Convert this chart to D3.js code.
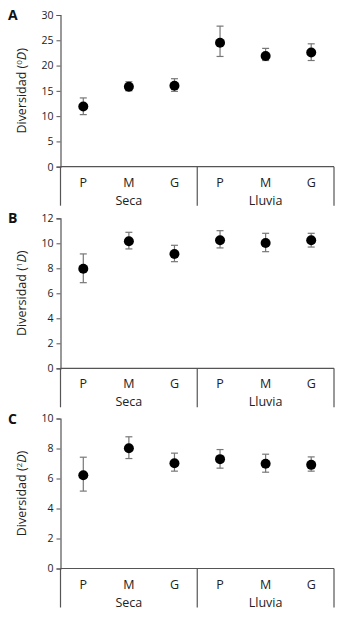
<!DOCTYPE html>
<html><head><meta charset="utf-8">
<script src="https://cdn.jsdelivr.net/npm/d3@7"></script>
<style>
html,body{margin:0;padding:0;background:#fff;}
svg{display:block;font-family:"Open Sans",sans-serif;}
</style></head>
<body><div id="chart"></div>
<script>
const seasons = ["Seca", "Lluvia"];
const sizes = ["P", "M", "G"];
const panelLetters = ["A", "B", "C"];
const superscripts = ["0", "1", "2"];
const yMax = [30, 12, 10];
const yTicksA = [0, 5, 10, 15, 20, 25, 30];
const yTicksB = [0, 2, 4, 6, 8, 10, 12];
const yTicksC = [0, 2, 4, 6, 8, 10];
// values order: Seca P, M, G, Lluvia P, M, G
const meanA = [11.9, 15.8, 16.0, 24.5, 21.9, 22.6];
const lowA  = [10.3, 15.0, 14.9, 21.8, 21.0, 21.0];
const highA = [13.6, 16.8, 17.4, 27.8, 23.4, 24.3];
const meanB = [7.97, 10.16, 9.15, 10.24, 10.03, 10.24];
const lowB  = [6.85, 9.55, 8.53, 9.63, 9.33, 9.70];
const highB = [9.15, 10.88, 9.84, 11.01, 10.80, 10.80];
const meanC = [6.22, 8.02, 7.02, 7.29, 6.98, 6.91];
const lowC  = [5.16, 7.33, 6.49, 6.69, 6.42, 6.49];
const highC = [7.42, 8.78, 7.69, 7.93, 7.62, 7.44];

const W = 342, H = 619;
const svg = d3.select("#chart").append("svg").attr("width", W).attr("height", H);

const panels = [
  {top: 15, bottom: 166.7, ticks: yTicksA, mean: meanA, low: lowA, high: highA},
  {top: 218.3, bottom: 368.3, ticks: yTicksB, mean: meanB, low: lowB, high: highB},
  {top: 418.5, bottom: 568.5, ticks: yTicksC, mean: meanC, low: lowC, high: highC}
];
const left = 60.5, right = 334;
const axisColor = "#555";
const textColor = "#222";

const xGroup = d3.scaleBand().domain(seasons).range([left, right]).paddingInner(0).paddingOuter(0);
const xInner = d3.scaleBand().domain(sizes).range([0, xGroup.bandwidth()]);

panels.forEach((p, i) => {
  const g = svg.append("g");
  const y = d3.scaleLinear().domain([0, yMax[i]]).range([p.bottom, p.top]);

  // y axis
  const ya = g.append("g").attr("transform", `translate(${left},0)`)
    .call(d3.axisLeft(y).tickValues(p.ticks).tickSize(4).tickPadding(3));
  ya.select(".domain").attr("stroke", axisColor).attr("stroke-width", 1.2);
  ya.selectAll(".tick line").attr("stroke", axisColor).attr("stroke-width", 1);
  ya.selectAll(".tick text").attr("fill", textColor).style("font-size", "10.5px")
    .style("font-family", "'Open Sans',sans-serif");

  // baseline
  g.append("line").attr("x1", left).attr("x2", right).attr("y1", y(0)).attr("y2", y(0))
    .attr("stroke", axisColor).attr("stroke-width", 1.2);
  // group dividers
  const divs = [left, xGroup("Lluvia"), right];
  g.selectAll("line.div").data(divs).enter().append("line")
    .attr("x1", d => d).attr("x2", d => d).attr("y1", y(0)).attr("y2", y(0) + 39)
    .attr("stroke", axisColor).attr("stroke-width", 1.2);

  // category labels
  seasons.forEach((s, si) => {
    sizes.forEach(c => {
      g.append("text").attr("x", xGroup(s) + xInner(c) + xInner.bandwidth() / 2)
        .attr("y", y(0) + 20).attr("text-anchor", "middle").attr("fill", textColor)
        .style("font-size", "12.5px").text(c);
    });
    g.append("text").attr("x", xGroup(s) + xGroup.bandwidth() / 2)
      .attr("y", y(0) + 38).attr("text-anchor", "middle").attr("fill", textColor)
      .style("font-size", "12.5px").text(s);
  });

  // y label
  const lbl = g.append("text")
    .attr("transform", `translate(26,${(p.top + p.bottom) / 2}) rotate(-90)`)
    .attr("text-anchor", "middle").attr("fill", textColor).style("font-size", "12.5px");
  lbl.append("tspan").text("Diversidad (");
  lbl.append("tspan").attr("dy", -4).style("font-size", "8px").text(superscripts[i]);
  lbl.append("tspan").attr("dy", 4).style("font-style", "italic").text("D");
  lbl.append("tspan").text(")");

  // panel letter
  g.append("text").attr("x", 8).attr("y", p.top + 5).attr("fill", "#111")
    .style("font-size", "14px").style("font-weight", "bold").text(panelLetters[i]);

  // data
  const data = p.mean.map((m, k) => ({
    season: seasons[Math.floor(k / 3)], size: sizes[k % 3], mean: m, low: p.low[k], high: p.high[k]
  }));
  const cx = d => xGroup(d.season) + xInner(d.size) + xInner.bandwidth() / 2;
  const eb = g.selectAll("g.eb").data(data).enter().append("g");
  eb.append("line").attr("x1", cx).attr("x2", cx).attr("y1", d => y(d.low)).attr("y2", d => y(d.high))
    .attr("stroke", "#777").attr("stroke-width", 1.2);
  eb.append("line").attr("x1", d => cx(d) - 3.5).attr("x2", d => cx(d) + 3.5)
    .attr("y1", d => y(d.low)).attr("y2", d => y(d.low)).attr("stroke", "#777").attr("stroke-width", 1.2);
  eb.append("line").attr("x1", d => cx(d) - 3.5).attr("x2", d => cx(d) + 3.5)
    .attr("y1", d => y(d.high)).attr("y2", d => y(d.high)).attr("stroke", "#777").attr("stroke-width", 1.2);
  eb.append("circle").attr("cx", cx).attr("cy", d => y(d.mean)).attr("r", 5).attr("fill", "#000");
});
</script></body></html>
